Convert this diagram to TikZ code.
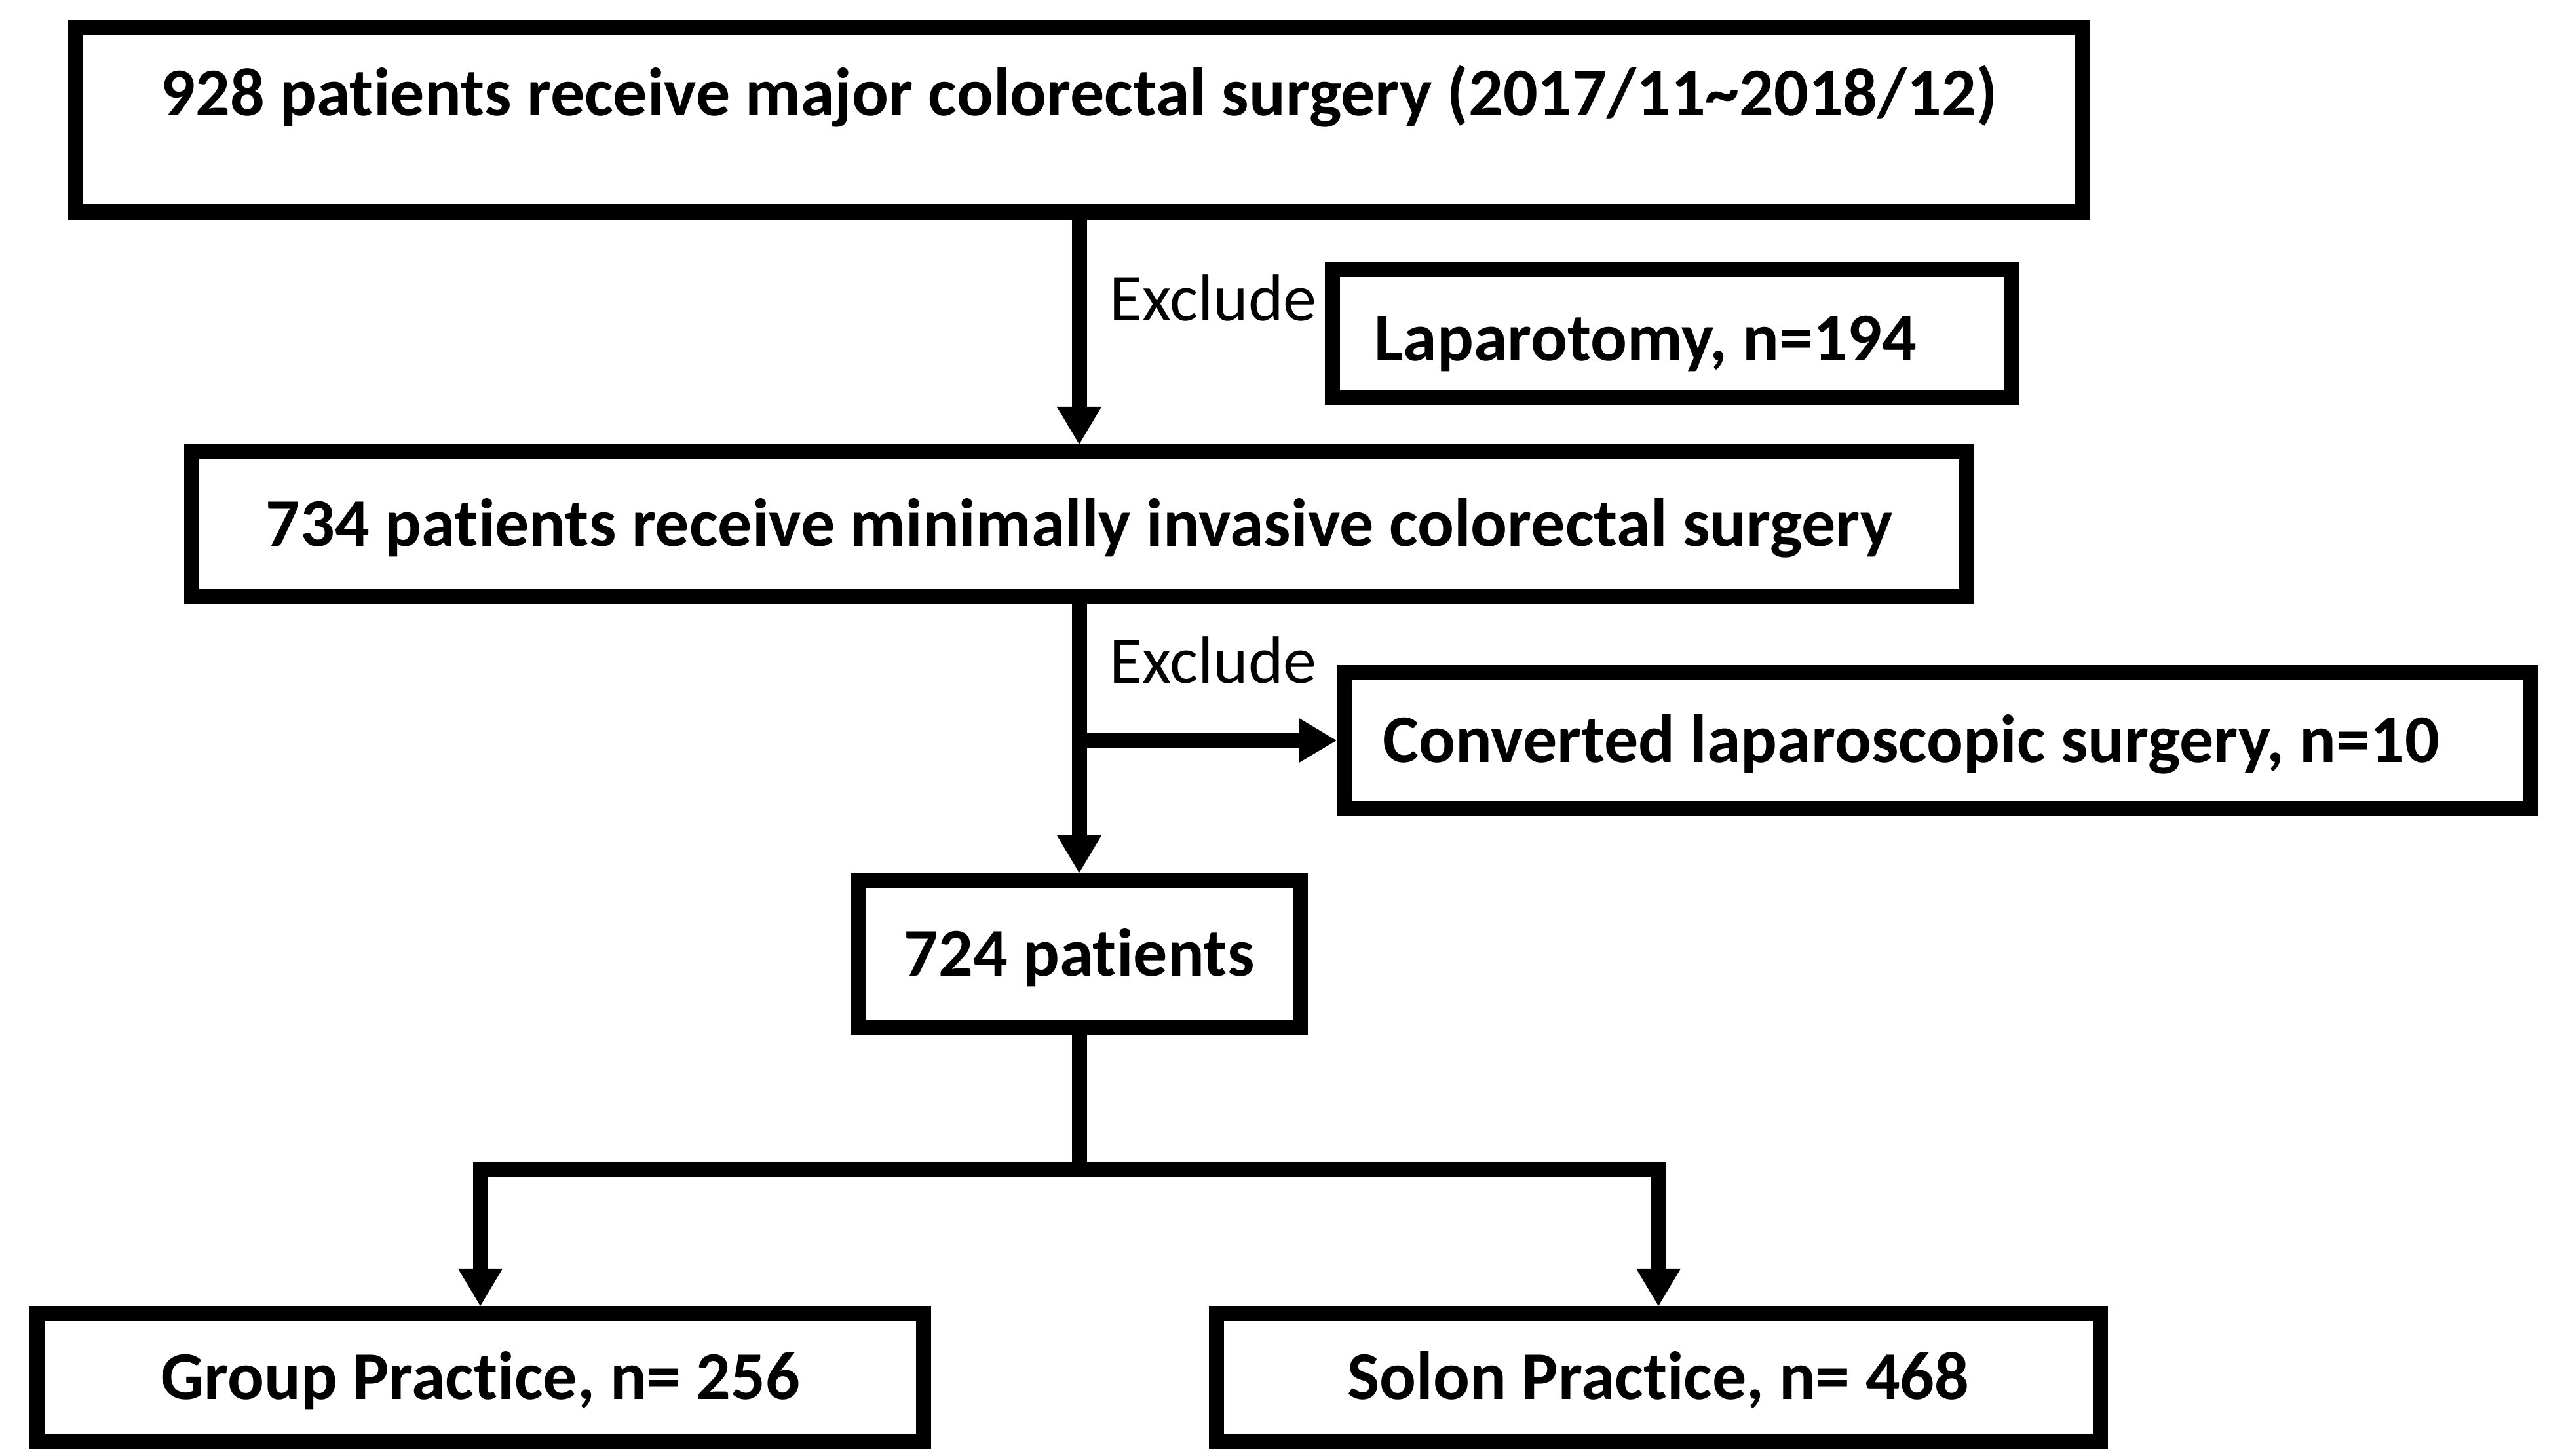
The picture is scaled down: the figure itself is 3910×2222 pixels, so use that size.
\documentclass[tikz,border=0pt]{standalone}
\usepackage{fontspec}
\setmainfont{Carlito}[Ligatures={NoCommon}]
\usetikzlibrary{arrows.meta}
\tikzset{
  box/.style={draw=black, fill=white, line width=0.23cm, inner sep=0pt,
    font=\fontsize{29.6pt}{34pt}\selectfont\bfseries, text height=0.67cm, text depth=0cm},
  conn/.style={draw=black, line width=0.23cm},
  arr/.style={conn, -{Triangle[length=0.57cm, width=0.68cm, line width=0pt]}},
  lbl/.style={font=\fontsize{29pt}{34pt}\selectfont, inner sep=0pt, anchor=base west}
}
\begin{document}
\begin{tikzpicture}[x=0.01cm, y=-0.01cm]
\useasboundingbox (0,0) rectangle (3910,2222);
\node[box, minimum width=30.62cm, minimum height=2.81cm, text depth=0.79cm] (b1) at (1647,183)
  {928 patients receive major colorectal surgery (2017/11\textasciitilde 2018/12)};
\node[box, minimum width=10.36cm, minimum height=1.95cm, text height=0.82cm] (lap) at (2551.5,509)
  {\hspace*{-0.8cm}Laparotomy, n=194};
\node[box, minimum width=27.08cm, minimum height=2.21cm] (b2) at (1647,800)
  {734 patients receive minimally invasive colorectal surgery};
\node[box, minimum width=18.10cm, minimum height=2.07cm] (conv) at (2956.5,1130)
  {\hspace*{-0.8cm}Converted laparoscopic surgery, n=10};
\node[box, minimum width=6.75cm, minimum height=2.24cm] (b3) at (1647,1455.5)
  {724 patients};
\node[box, minimum width=13.53cm, minimum height=1.95cm] (grp) at (733,2102)
  {Group Practice, n= 256};
\node[box, minimum width=13.49cm, minimum height=1.95cm] (sol) at (2531,2102)
  {Solon Practice, n= 468};
\node[lbl] (ex1) at (1693,490) {Exclude};
\node[lbl] (ex2) at (1693,1042) {Exclude};
\draw[arr] (b1.south) -- (b2.north);
\draw[arr] (b2.south) -- (b3.north);
\coordinate (branch) at (b2.south |- conv.west);
\draw[arr] (branch) -- (conv.west);
\coordinate (split) at (1647,1784);
\draw[conn] (b3.south) -- (split);
\draw[arr] (split) -| (grp.north);
\draw[arr] (split) -| (sol.north);
\end{tikzpicture}
\end{document}
